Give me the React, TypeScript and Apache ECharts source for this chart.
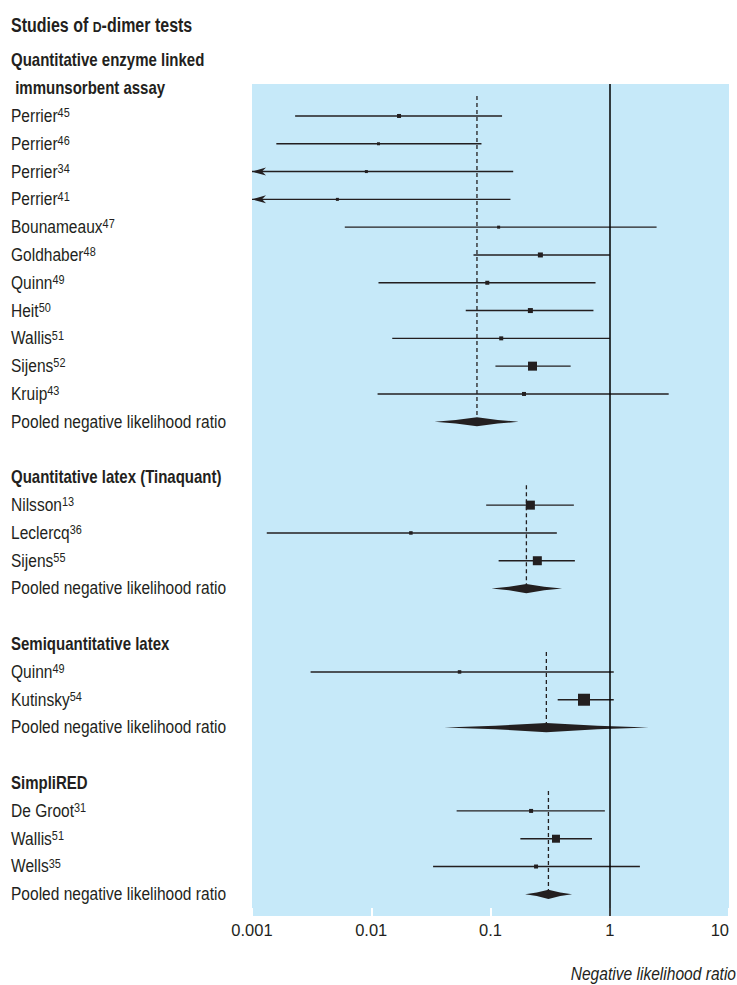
import React, { useEffect, useRef } from "react";
import * as echarts from "echarts";

// ---------- data ----------
const groupNames = [
  "Quantitative enzyme linked\n immunsorbent assay",
  "Quantitative latex (Tinaquant)",
  "Semiquantitative latex",
  "SimpliRED",
];

const studyNames = [
  "Perrier", "Perrier", "Perrier", "Perrier", "Bounameaux", "Goldhaber", "Quinn", "Heit", "Wallis", "Sijens", "Kruip",
  "Nilsson", "Leclercq", "Sijens",
  "Quinn", "Kutinsky",
  "De Groot", "Wallis", "Wells",
];
const studyRefs = ["45", "46", "34", "41", "47", "48", "49", "50", "51", "52", "43", "13", "36", "55", "49", "54", "31", "51", "35"];
const studyGroup = [0, 0, 0, 0, 0, 0, 0, 0, 0, 0, 0, 1, 1, 1, 2, 2, 3, 3, 3];
const studyEstimate = [0.0171, 0.0115, 0.0091, 0.0052, 0.117, 0.262, 0.094, 0.216, 0.123, 0.225, 0.191, 0.216, 0.0215, 0.247, 0.055, 0.608, 0.219, 0.354, 0.241];
// null = lower limit below the axis minimum (drawn as an arrow)
const studyLower: (number | null)[] = [0.0023, 0.0016, null, null, 0.006, 0.072, 0.0115, 0.062, 0.015, 0.11, 0.0113, 0.092, 0.00133, 0.117, 0.0031, 0.366, 0.052, 0.178, 0.033];
const studyUpper = [0.125, 0.084, 0.155, 0.147, 2.47, 1.0, 0.76, 0.73, 1.0, 0.47, 3.12, 0.5, 0.36, 0.51, 1.08, 1.08, 0.91, 0.71, 1.79];
const studyWeight = [4, 3, 3, 3, 3, 5, 4, 5, 4, 9, 4, 9, 3.5, 9, 3.5, 12, 4, 8, 4];

const pooledLabel = "Pooled negative likelihood ratio";
const pooledEstimate = [0.077, 0.2, 0.294, 0.306];
const pooledLower = [0.034, 0.102, 0.041, 0.195];
const pooledUpper = [0.172, 0.398, 2.12, 0.483];

const xTickLabels = ["0.001", "0.01", "0.1", "1", "10"];
const xAxisTitle = "Negative likelihood ratio";
const chartTitle = "Studies of {sc|D}-dimer tests";

// ---------- row layout ----------
const studyRow: number[] = [];
const pooledRow: number[] = [];
const headerRows: number[][] = [];
(() => {
  let row = -2;
  groupNames.forEach((g, gi) => {
    const lines = g.split("\n");
    headerRows.push(lines.map((_, k) => row + k));
    row += lines.length;
    studyGroup.forEach((sg, si) => {
      if (sg === gi) {
        studyRow[si] = row;
        row += 1;
      }
    });
    pooledRow.push(row);
    row += 2;
  });
})();

const FONT = '"Liberation Sans", Arial, Helvetica, sans-serif';
const INK = "#231f20";
const BLUE = "#c6e9f9";
const NARROW = 0.84;

export default function App() {
  const ref = useRef<HTMLDivElement>(null);
  useEffect(() => {
    if (!ref.current) return;
    const chart = echarts.init(ref.current, undefined, { renderer: "svg" });

    const labelItems: { row: number; text: string; bold: boolean }[] = [];
    groupNames.forEach((g, gi) => {
      g.split("\n").forEach((line, k) => labelItems.push({ row: headerRows[gi][k], text: line, bold: true }));
    });
    studyNames.forEach((n, i) => labelItems.push({ row: studyRow[i], text: `{n|${n}}{s|${studyRefs[i]}}`, bold: false }));
    pooledRow.forEach((r) => labelItems.push({ row: r, text: `{n|${pooledLabel}}`, bold: false }));

    const option: any = {
      animation: false,
      graphic: [
        {
          type: "text",
          x: 11,
          y: 25,
          scaleX: 0.82,
          silent: true,
          style: {
            text: chartTitle,
            fill: INK,
            fontFamily: FONT,
            fontSize: 19.5,
            fontWeight: "bold",
            align: "left",
            verticalAlign: "middle",
            rich: {
              sc: { fontFamily: FONT, fontSize: 15, fontWeight: "bold", fill: INK, verticalAlign: "bottom" },
            },
          },
        },
        {
          type: "text",
          x: 736,
          y: 973,
          scaleX: 0.82,
          silent: true,
          style: {
            text: xAxisTitle,
            fill: INK,
            fontFamily: FONT,
            fontSize: 19,
            fontStyle: "italic",
            align: "right",
            verticalAlign: "middle",
          },
        },
      ],
      grid: {
        left: 252,
        top: 84,
        width: 477,
        height: 832,
        show: true,
        backgroundColor: BLUE,
        borderWidth: 0,
      },
      xAxis: {
        type: "log",
        logBase: 10,
        min: 0.001,
        max: 10,
        axisLine: { show: false, onZero: false },
        axisTick: { show: true, inside: true, length: 8, lineStyle: { color: "#ffffff", width: 2 } },
        splitLine: { show: false },
        axisLabel: {
          formatter: (v: number) => xTickLabels[Math.round(Math.log10(v)) + 3] ?? "",
          fontFamily: FONT,
          fontSize: 16.5,
          color: INK,
          margin: 5,
          alignMaxLabel: "right",
        },
      },
      yAxis: {
        type: "value",
        min: -1.15,
        max: 28.78,
        inverse: true,
        show: false,
      },
      series: [
        {
          type: "custom",
          name: "studies",
          clip: false,
          data: studyEstimate.map((v, i) => [v, studyRow[i]]),
          encode: { x: 0, y: 1 },
          renderItem: (params: any, api: any) => {
            const i = params.dataIndex;
            const row = studyRow[i];
            const [xe, y] = api.coord([studyEstimate[i], row]);
            const lo = studyLower[i];
            const xl = lo == null ? params.coordSys.x : api.coord([lo, row])[0];
            const xh = api.coord([studyUpper[i], row])[0];
            const s = studyWeight[i];
            const children: any[] = [
              {
                type: "line",
                shape: { x1: xl, y1: y, x2: xh, y2: y },
                style: { stroke: INK, lineWidth: 1.4 },
              },
              {
                type: "rect",
                shape: { x: xe - s / 2, y: y - s / 2, width: s, height: s },
                style: { fill: INK },
              },
            ];
            if (lo == null) {
              children.push({
                type: "polygon",
                shape: { points: [[xl, y], [xl + 14, y - 4], [xl + 10, y], [xl + 14, y + 4]] },
                style: { fill: INK },
              });
            }
            return { type: "group", children };
          },
          markLine: {
            silent: true,
            symbol: ["none", "none"],
            label: { show: false },
            lineStyle: { color: "#000000", width: 1.5, type: "solid" },
            data: [{ xAxis: 1 }],
          },
          z: 3,
        },
        {
          type: "custom",
          name: "pooled",
          clip: false,
          data: pooledEstimate.map((v, i) => [v, pooledRow[i]]),
          encode: { x: 0, y: 1 },
          renderItem: (params: any, api: any) => {
            const i = params.dataIndex;
            const row = pooledRow[i];
            const [xc, y] = api.coord([pooledEstimate[i], row]);
            const xl = api.coord([pooledLower[i], row])[0];
            const xh = api.coord([pooledUpper[i], row])[0];
            const h = 4.6;
            const hdr = headerRows[i];
            const yTop = api.coord([1, hdr[hdr.length - 1] + 0.28])[1];
            return {
              type: "group",
              children: [
                {
                  type: "line",
                  shape: { x1: xc, y1: yTop, x2: xc, y2: y },
                  style: { stroke: INK, lineWidth: 1.3, lineDash: [4, 3] },
                },
                {
                  type: "polygon",
                  shape: {
                    points: [
                      [xl, y],
                      [(xl + xc) / 2, y - h * 0.38],
                      [xc, y - h],
                      [(xc + xh) / 2, y - h * 0.38],
                      [xh, y],
                      [(xc + xh) / 2, y + h * 0.38],
                      [xc, y + h],
                      [(xl + xc) / 2, y + h * 0.38],
                    ],
                  },
                  style: { fill: INK },
                },
              ],
            };
          },
          z: 4,
        },
        {
          type: "custom",
          name: "labels",
          clip: false,
          silent: true,
          data: labelItems.map((d) => [0.001, d.row]),
          encode: { x: 0, y: 1 },
          renderItem: (params: any, api: any) => {
            const d = labelItems[params.dataIndex];
            const y = api.coord([0.001, d.row])[1];
            return {
              type: "text",
              x: 11,
              y,
              scaleX: d.bold ? 0.82 : NARROW,
              style: {
                text: d.text,
                fill: INK,
                fontFamily: FONT,
                fontSize: d.bold ? 18.3 : 18.5,
                fontWeight: d.bold ? "bold" : "normal",
                align: "left",
                verticalAlign: "middle",
                rich: {
                  n: { fontFamily: FONT, fontSize: 18.5, fill: INK, lineHeight: 19 },
                  s: { fontFamily: FONT, fontSize: 13, fill: INK, verticalAlign: "top", lineHeight: 11 },
                },
              },
            };
          },
        },
      ],
    };
    chart.setOption(option);
    return () => chart.dispose();
  }, []);

  return (
    <div
      ref={ref}
      style={{ position: "fixed", left: 0, top: 0, width: 737, height: 985, background: "#ffffff" }}
    />
  );
}
